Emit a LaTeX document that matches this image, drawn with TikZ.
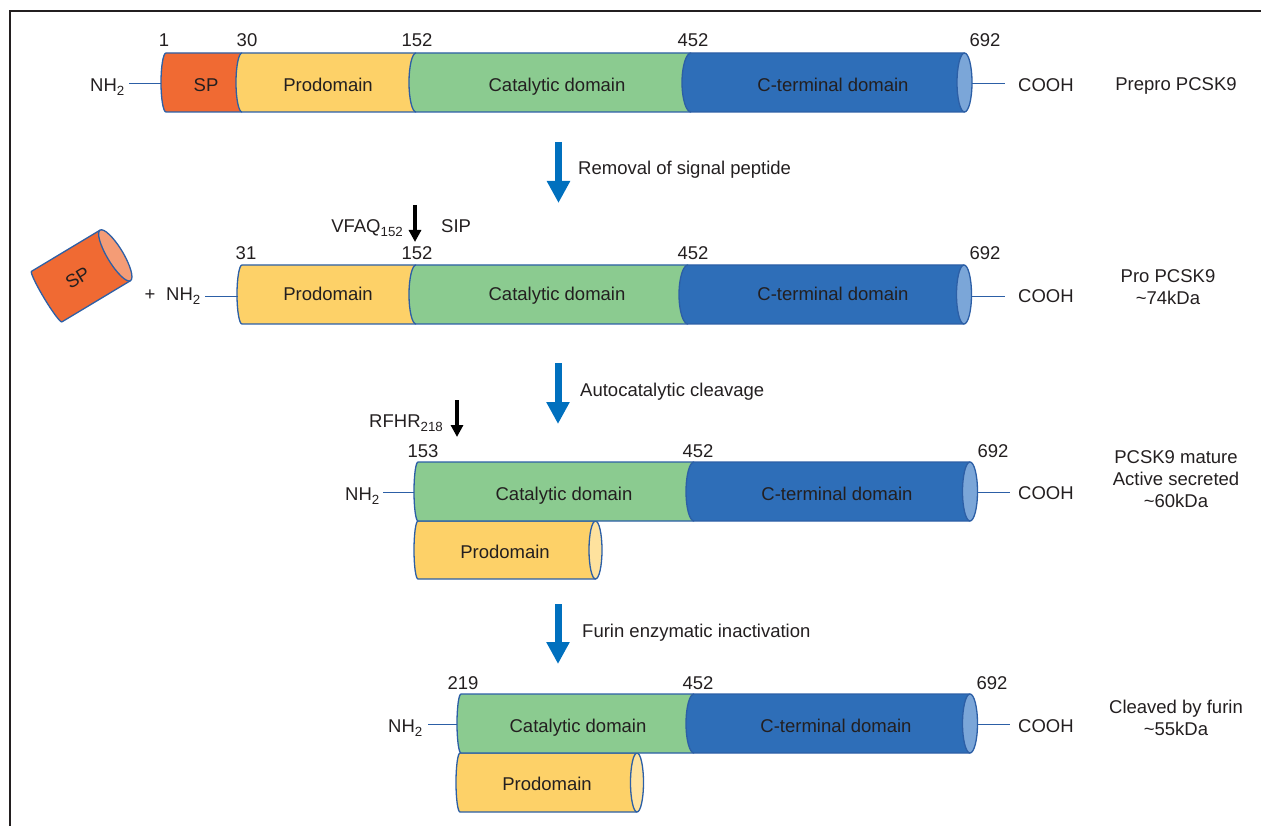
\documentclass[tikz,border=0pt]{standalone}
\usepackage{fontspec}
\setmainfont{Liberation Sans}
\usetikzlibrary{arrows.meta}
\definecolor{txt}{HTML}{231F20}
\definecolor{spc}{HTML}{F06A33}
\definecolor{spface}{HTML}{F49C76}
\definecolor{proc}{HTML}{FDD168}
\definecolor{proface}{HTML}{FEE29E}
\definecolor{catc}{HTML}{8BCB90}
\definecolor{ctc}{HTML}{2E6EB8}
\definecolor{ctface}{HTML}{7BA6D8}
\definecolor{outl}{HTML}{2C5FA6}
\definecolor{arrblue}{HTML}{0070BE}
\newcommand\sbs[1]{\raisebox{-4pt}{\fontsize{13.3}{13.3}\selectfont #1}}
% segment: xa xb ytop ybot rx color
\newcommand\cseg[6]{%
  \fill[#6] (#1,-#3) arc[start angle=90,end angle=270,x radius=#5,y radius={(#4-#3)/2}] -- (#2,-#4) -- (#2,-#3) -- cycle;
  \draw[cylline] (#2,-#3) -- (#1,-#3) arc[start angle=90,end angle=270,x radius=#5,y radius={(#4-#3)/2}] -- (#2,-#4);}
% end face: xc ytop ybot rx color
\newcommand\cend[5]{%
  \filldraw[fill=#5, cylline] (#1,{-(#2+#3)/2}) ellipse[x radius=#4, y radius={(#3-#2)/2}];}
\tikzset{
  cylline/.style={draw=outl, line width=1.3pt, line join=round},
  lab/.style={text=txt, font=\fontsize{18.5}{22}\selectfont, inner sep=0pt, anchor=base},
  conn/.style={draw=outl, line width=1pt},
  bluearr/.style={draw=arrblue, line width=7pt, -{Triangle[width=22pt,length=22pt]}},
  blkarr/.style={draw=black, line width=3.5pt, -{Triangle[width=12pt,length=12pt]}},
  frameline/.style={draw=txt, line width=2.5pt}
}
\begin{document}
\begin{tikzpicture}[x=1pt,y=1pt]
\useasboundingbox (0,0) rectangle (1261,-826);
% frame
\coordinate (f0) at (10,-826);
\coordinate (f1) at (10,-11);
\coordinate (f2) at (1261,-11);
\draw[frameline] (f0) -- (f1) -- (f2);

% ---------- Row 1 ----------
\cseg{166}{242}{53}{112}{5}{spc}
\cseg{242}{416}{53}{112}{6}{proc}
\cseg{416}{691}{53}{112}{7}{catc}
\cseg{691}{964.5}{53}{112}{9}{ctc}
\cend{964.5}{53}{112}{7.5}{ctface}
\node[lab] (r1n1) at (164,-47) {1};
\node[lab] (r1n30) at (247,-47) {30};
\node[lab] (r1n152) at (417,-47) {152};
\node[lab] (r1n452) at (693,-47) {452};
\node[lab] (r1n692) at (985,-47) {692};
\node[lab] (r1sp) at (206,-92) {SP};
\node[lab] (r1pro) at (328,-92) {Prodomain};
\node[lab] (r1cat) at (557,-92) {Catalytic domain};
\node[lab] (r1ct) at (833,-92) {C-terminal domain};
\node[lab, anchor=base west] (r1nh) at (90,-92) {NH\sbs{2}};
\node[lab, anchor=base west] (r1co) at (1018,-92) {COOH};
\node[lab] (r1name) at (1176,-91) {Prepro PCSK9};
\coordinate (r1L) at (161,-84);
\coordinate (r1La) at (129,-84);
\coordinate (r1R) at (972,-83.5);
\coordinate (r1Ra) at (1005,-83.5);
\draw[conn] (r1La) -- (r1L);
\draw[conn] (r1R) -- (r1Ra);

% arrow 1
\coordinate (b1s) at (558.5,-142);
\coordinate (b1e) at (558.5,-203);
\draw[bluearr] (b1s) -- (b1e);
\node[lab, anchor=base west] (b1t) at (578,-175) {Removal of signal peptide};

% ---------- Row 2 ----------
\begin{scope}[shift={(81,-276)}, rotate=31]
  \filldraw[fill=spc, cylline] (40,29.5) -- (-40,29.5) arc[start angle=90,end angle=270,x radius=3,y radius=29.5] -- (40,-29.5) -- cycle;
  \filldraw[fill=spface, cylline] (40,0) ellipse[x radius=8, y radius=29.5];
  \node[lab, anchor=center, rotate=31] (r2sp) at (-4,0) {SP};
\end{scope}
\cseg{242}{416}{265}{324}{5}{proc}
\cseg{416}{688}{265}{324}{7}{catc}
\cseg{688}{964}{265}{324}{9}{ctc}
\cend{964}{265}{324}{7.5}{ctface}
\node[lab] (r2n31) at (246,-260) {31};
\node[lab] (r2n152) at (417,-260) {152};
\node[lab] (r2n452) at (693,-260) {452};
\node[lab] (r2n692) at (985,-260) {692};
\node[lab] (r2pro) at (328,-301) {Prodomain};
\node[lab] (r2cat) at (557,-301) {Catalytic domain};
\node[lab] (r2ct) at (833,-301) {C-terminal domain};
\node[lab] (r2plus) at (150,-301) {+};
\node[lab, anchor=base west] (r2nh) at (166,-301) {NH\sbs{2}};
\node[lab, anchor=base west] (r2co) at (1018,-303) {COOH};
\node[lab] (r2name) at (1168,-283) {Pro PCSK9};
\node[lab] (r2kda) at (1168,-305) {\textasciitilde74kDa};
\node[lab, anchor=base east] (vfaq) at (403,-233) {VFAQ\sbs{152}};
\node[lab, anchor=base west] (sip) at (441,-233) {SIP};
\coordinate (k1s) at (415,-205);
\coordinate (k1e) at (415,-242);
\draw[blkarr] (k1s) -- (k1e);
\coordinate (r2L) at (238,-296.5);
\coordinate (r2La) at (205,-296.5);
\coordinate (r2R) at (971.5,-296.5);
\coordinate (r2Ra) at (1005,-296.5);
\draw[conn] (r2La) -- (r2L);
\draw[conn] (r2R) -- (r2Ra);

% arrow 2
\coordinate (b2s) at (558,-363);
\coordinate (b2e) at (558,-424);
\draw[bluearr] (b2s) -- (b2e);
\node[lab, anchor=base west] (b2t) at (580,-396) {Autocatalytic cleavage};

% ---------- Row 3 ----------
\cseg{418}{595.5}{521}{579}{4}{proc}
\cend{595.5}{521}{579}{6.5}{proface}
\cseg{418}{694}{462}{521}{4}{catc}
\cseg{694}{970}{462}{521}{8}{ctc}
\cend{970}{462}{521}{7.5}{ctface}
\node[lab] (r3n153) at (423,-457) {153};
\node[lab] (r3n452) at (698,-457) {452};
\node[lab] (r3n692) at (993,-457) {692};
\node[lab] (r3cat) at (564,-500) {Catalytic domain};
\node[lab] (r3ct) at (837,-500) {C-terminal domain};
\node[lab] (r3pro) at (505,-558) {Prodomain};
\node[lab, anchor=base west] (r3nh) at (345,-500) {NH\sbs{2}};
\node[lab, anchor=base west] (r3co) at (1018,-499) {COOH};
\node[lab] (r3name1) at (1176,-463) {PCSK9 mature};
\node[lab] (r3name2) at (1176,-485) {Active secreted};
\node[lab] (r3name3) at (1176,-507) {\textasciitilde60kDa};
\node[lab, anchor=base east] (rfhr) at (443,-427) {RFHR\sbs{218}};
\coordinate (k2s) at (457,-400);
\coordinate (k2e) at (457,-437);
\draw[blkarr] (k2s) -- (k2e);
\coordinate (r3L) at (414,-492);
\coordinate (r3La) at (383,-492);
\coordinate (r3R) at (977.5,-492);
\coordinate (r3Ra) at (1010,-492);
\draw[conn] (r3La) -- (r3L);
\draw[conn] (r3R) -- (r3Ra);

% arrow 3
\coordinate (b3s) at (558,-604);
\coordinate (b3e) at (558,-664);
\draw[bluearr] (b3s) -- (b3e);
\node[lab, anchor=base west] (b3t) at (582,-637) {Furin enzymatic inactivation};

% ---------- Row 4 ----------
\cseg{460}{637}{753}{812}{4}{proc}
\cend{637}{753}{812}{6.5}{proface}
\cseg{461}{694}{694}{753}{4}{catc}
\cseg{694}{970}{694}{753}{8}{ctc}
\cend{970}{694}{753}{7.5}{ctface}
\node[lab] (r4n219) at (463,-689) {219};
\node[lab] (r4n452) at (698,-689) {452};
\node[lab] (r4n692) at (992,-689) {692};
\node[lab] (r4cat) at (578,-732) {Catalytic domain};
\node[lab] (r4ct) at (836,-732) {C-terminal domain};
\node[lab] (r4pro) at (547,-790) {Prodomain};
\node[lab, anchor=base west] (r4nh) at (388,-732) {NH\sbs{2}};
\node[lab, anchor=base west] (r4co) at (1018,-732) {COOH};
\node[lab] (r4name1) at (1176,-713) {Cleaved by furin};
\node[lab] (r4name2) at (1176,-735) {\textasciitilde55kDa};
\coordinate (r4L) at (457,-724.5);
\coordinate (r4La) at (428,-724.5);
\coordinate (r4R) at (977.5,-724.5);
\coordinate (r4Ra) at (1010,-724.5);
\draw[conn] (r4La) -- (r4L);
\draw[conn] (r4R) -- (r4Ra);
\end{tikzpicture}
\end{document}
